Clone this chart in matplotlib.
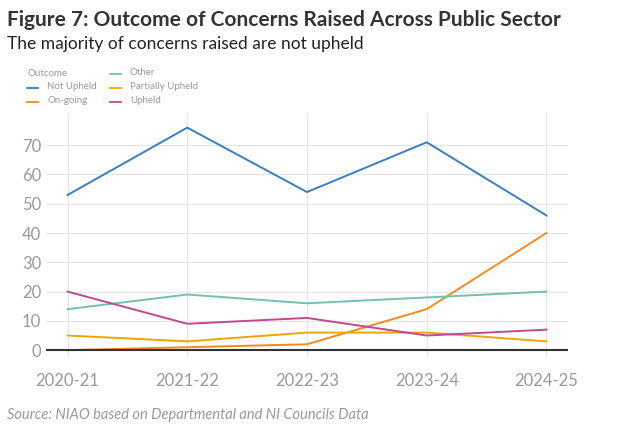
import matplotlib.pyplot as plt

years = ["2020-21", "2021-22", "2022-23", "2023-24", "2024-25"]
not_upheld = [53, 76, 54, 71, 46]
on_going = [0, 1, 2, 14, 40]
other = [14, 19, 16, 18, 20]
partially = [5, 3, 6, 6, 3]
upheld = [20, 9, 11, 5, 7]

series = [
    ("Not Upheld", not_upheld, "#3a7dc1"),
    ("On-going", on_going, "#f28a1e"),
    ("Other", other, "#72c0b4"),
    ("Partially Upheld", partially, "#f0a500"),
    ("Upheld", upheld, "#c14a8c"),
]

plt.rcParams["font.family"] = ["Lato", "DejaVu Sans"]
fig = plt.figure(figsize=(6.2, 4.37), dpi=100)
ax = fig.add_axes([46 / 620, 1 - 356 / 437, 522 / 620, 243 / 437])

xs = range(len(years))
for name, vals, col in series:
    ax.plot(xs, vals, color=col, lw=1.4, label=name)

ax.axhline(0, color="#333333", lw=1.5, zorder=5)
ax.set_xlim(-0.18, 4.18)
ax.set_ylim(-2, 81)
ax.set_yticks(range(0, 71, 10))
ax.set_xticks(list(xs))
ax.set_xticklabels(years)
ax.grid(True, color="#e4e4e4", lw=0.8)
ax.set_axisbelow(True)
for s in ax.spines.values():
    s.set_visible(False)
ax.tick_params(length=0, colors="#999999", labelsize=12)
ax.tick_params(axis="x", pad=12)

fig.text(0.012, 0.955, "Figure 7: Outcome of Concerns Raised Across Public Sector",
         fontsize=15, fontweight="bold", color="#333333", va="center")
fig.text(0.012, 0.9, "The majority of concerns raised are not upheld",
         fontsize=12.5, color="#222222", va="center")
fig.text(0.012, 0.05, "Source: NIAO based on Departmental and NI Councils Data",
         fontsize=10.5, style="italic", color="#999999", va="center")

# legend
fig.text(27 / 620, 1 - 74 / 437, "Outcome", fontsize=7, color="#999999", va="center")
pos = [(27, 88), (27, 102), (110, 74), (110, 88), (110, 102)]
for (name, vals, col), (px, py) in zip(series, pos):
    y = 1 - py / 437
    fig.add_artist(plt.Line2D([px / 620, (px + 11) / 620], [y, y], color=col, lw=1.3))
    fig.text((px + 20) / 620, y + 0.003, name, fontsize=7, color="#999999", va="center")

fig.savefig("out.png", dpi=100)
